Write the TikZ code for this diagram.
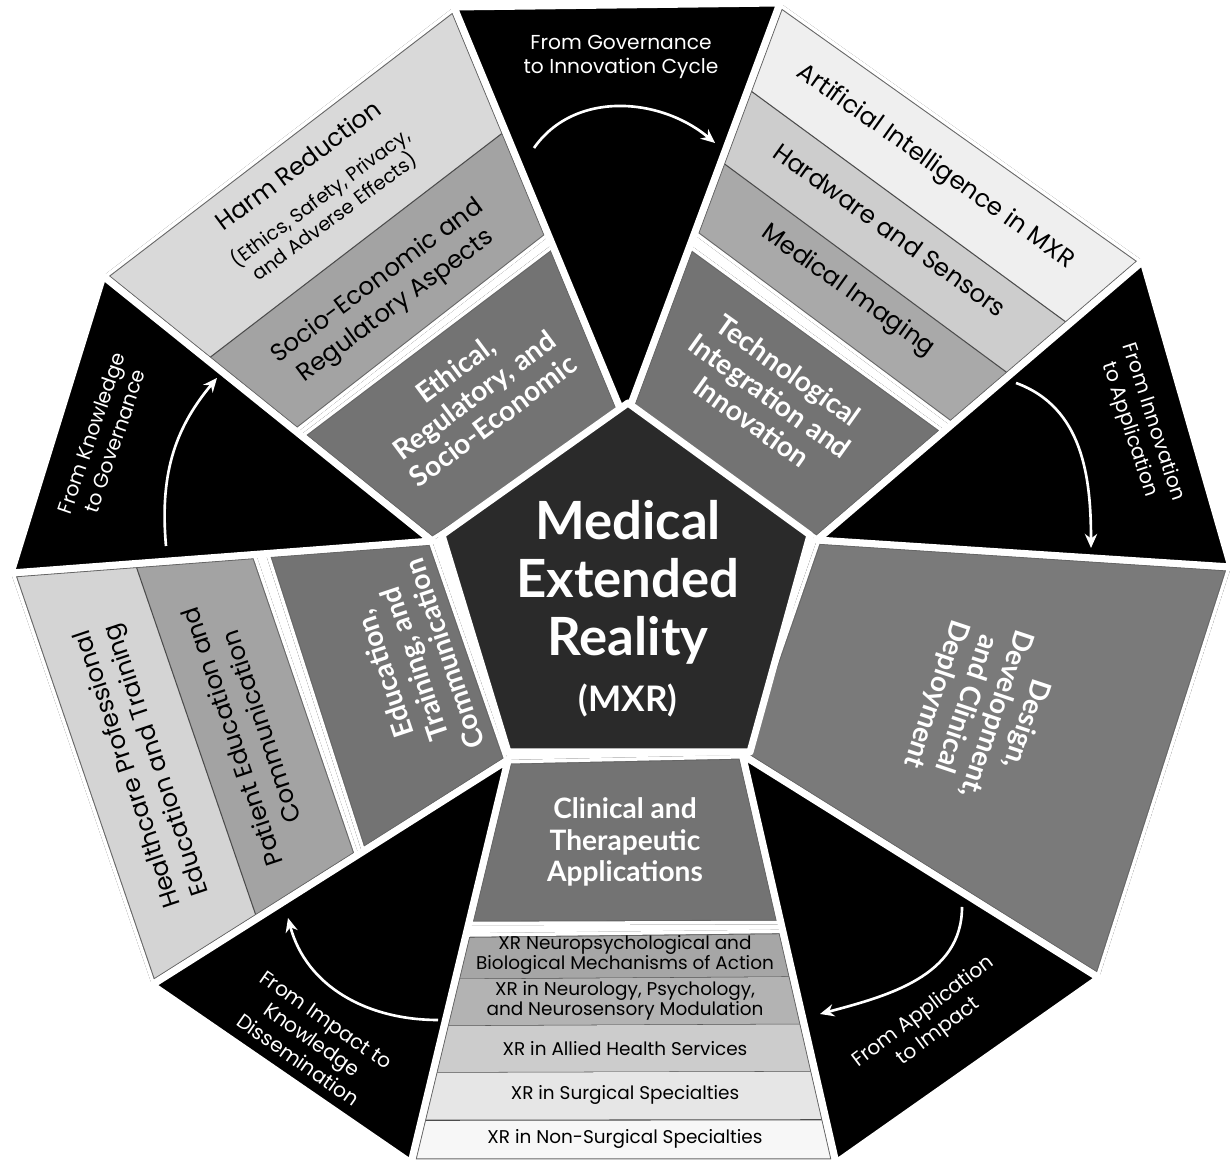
\documentclass[tikz,border=0pt]{standalone}
\usepackage{fontspec}
\setmainfont{Poppins}
\newfontfamily\headfont{Lato}
\usetikzlibrary{calc}
\usetikzlibrary{arrows.meta}

\definecolor{hubgrey}{HTML}{2A2A2A}
\definecolor{coregrey}{HTML}{737373}
\definecolor{designgrey}{HTML}{7A7A7A}
\definecolor{sociogrey}{HTML}{A3A3A3}
\definecolor{harmgrey}{HTML}{D9D9D9}
\definecolor{imaginggrey}{HTML}{A9A9A9}
\definecolor{hardwaregrey}{HTML}{CDCDCD}
\definecolor{aigrey}{HTML}{EFEFEF}
\definecolor{patientgrey}{HTML}{A3A3A3}
\definecolor{healthgrey}{HTML}{D4D4D4}
\definecolor{band1}{HTML}{A6A6A6}
\definecolor{band2}{HTML}{B3B3B3}
\definecolor{band3}{HTML}{CCCCCC}
\definecolor{band4}{HTML}{E6E6E6}
\definecolor{band5}{HTML}{F7F7F7}

\tikzset{
  wedge/.style={fill=black, draw=white, line width=4pt, line join=round},
  hub/.style={fill=hubgrey, draw=white, line width=4pt, line join=round},
  headtext/.style={text=white, align=center, font=\headfont\bfseries\fontsize{16}{18}\selectfont},
  itemtext/.style={text=black, align=center, font=\fontsize{14}{17.5}\selectfont},
  bandtext/.style={text=black, align=center, font=\fontsize{10.5}{11.5}\selectfont},
  flowtext/.style={text=white, align=center, font=\fontsize{11.5}{14}\selectfont},
  flow/.style={draw=white, line width=1.5pt, -{Stealth[length=8pt, width=7pt]}},
  bandline/.style={draw=black!70, line width=0.6pt},
}

\newcommand{\sectorpiece}[3]{%
  \begin{scope}
    \clip #2;
    \fill[#1] #2;
    #3
    \draw[black!60, line width=5.2pt, line join=round] #2;
    \draw[white, line width=4pt, line join=round] #2;
  \end{scope}}

\begin{document}
\begin{tikzpicture}[x=0.02cm, y=0.02cm]
\useasboundingbox (0,0) rectangle (1231,1162);

% wedge tips and outer ring
\coordinate (W1) at (625,742);
\coordinate (W2) at (817,622);
\coordinate (W3) at (742.5,407);
\coordinate (W4) at (508,402);
\coordinate (W5) at (432,621);
\coordinate (V1) at (454,1155);
\coordinate (V2) at (780,1159);
\coordinate (V3) at (1143,901);
\coordinate (V4) at (1231,595);
\coordinate (V5) at (1099,184);
\coordinate (V6) at (836,-1);
\coordinate (V7) at (411,-1);
\coordinate (V8) at (152,177);
\coordinate (V9) at (11,589);
\coordinate (V10) at (103,886);
% centre pentagon
\coordinate (C1) at (628,759);
\coordinate (C2) at (810,627);
\coordinate (C3) at (750,410);
\coordinate (C4) at (508,410);
\coordinate (C5) at (442,627);

% ethical sector
\coordinate (tla) at ($(W5)!0.40!(V10)$);
\coordinate (tlb) at ($(W1)!0.425!(V1)$);
\coordinate (tlc) at ($(W5)!0.41!(V10)$);
\coordinate (tld) at ($(W1)!0.445!(V1)$);
\coordinate (tle) at ($(W5)!0.684!(V10)$);
\coordinate (tlf) at ($(W1)!0.70!(V1)$);
\sectorpiece{coregrey}{(W5) -- (W1) -- (tlb) -- (tla) -- cycle}{}
\sectorpiece{harmgrey}{(tlc) -- (tld) -- (V1) -- (V10) -- cycle}{%
  \fill[sociogrey] (tlc) -- (tld) -- (tlf) -- (tle) -- cycle;
  \draw[bandline] (tle) -- (tlf);}

% technology sector
\coordinate (tra) at ($(W1)!0.42!(V2)$);
\coordinate (trb) at ($(W2)!0.393!(V3)$);
\coordinate (trc) at ($(W1)!0.445!(V2)$);
\coordinate (trd) at ($(W2)!0.41!(V3)$);
\coordinate (tre) at ($(W1)!0.62!(V2)$);
\coordinate (trf) at ($(W2)!0.592!(V3)$);
\coordinate (trg) at ($(W1)!0.794!(V2)$);
\coordinate (trh) at ($(W2)!0.773!(V3)$);
\sectorpiece{coregrey}{(W1) -- (W2) -- (trb) -- (tra) -- cycle}{}
\sectorpiece{aigrey}{(trc) -- (trd) -- (V3) -- (V2) -- cycle}{%
  \fill[imaginggrey] (trc) -- (trd) -- (trf) -- (tre) -- cycle;
  \fill[hardwaregrey] (tre) -- (trf) -- (trh) -- (trg) -- cycle;
  \draw[bandline] (tre) -- (trf);
  \draw[bandline] (trg) -- (trh);}

% design sector
\sectorpiece{designgrey}{(W2) -- (V4) -- (V5) -- (W3) -- cycle}{}

% clinical sector
\coordinate (ba) at ($(W4)!0.41!(V7)$);
\coordinate (bb) at ($(W3)!0.415!(V6)$);
\coordinate (bc) at ($(W4)!0.43!(V7)$);
\coordinate (bd) at ($(W3)!0.428!(V6)$);
\sectorpiece{coregrey}{(W4) -- (W3) -- (bb) -- (ba) -- cycle}{}
\sectorpiece{band5}{(bc) -- (bd) -- (V6) -- (V7) -- cycle}{%
  \foreach \a/\b/\tone in {0.43/0.544/band1, 0.544/0.66/band2, 0.66/0.776/band3, 0.776/0.894/band4}{
    \fill[\tone] ($(W4)!\a!(V7)$) -- ($(W3)!\a!(V6)$) -- ($(W3)!\b!(V6)$) -- ($(W4)!\b!(V7)$) -- cycle;
    \draw[bandline] ($(W4)!\b!(V7)$) -- ($(W3)!\b!(V6)$);}}

% education sector
\coordinate (la) at ($(W4)!0.41!(V8)$);
\coordinate (lb) at ($(W5)!0.395!(V9)$);
\coordinate (lc) at ($(W4)!0.42!(V8)$);
\coordinate (ld) at ($(W5)!0.418!(V9)$);
\coordinate (le) at ($(W4)!0.705!(V8)$);
\coordinate (lf) at ($(W5)!0.705!(V9)$);
\sectorpiece{coregrey}{(W4) -- (W5) -- (lb) -- (la) -- cycle}{}
\sectorpiece{healthgrey}{(lc) -- (ld) -- (V9) -- (V8) -- cycle}{%
  \fill[patientgrey] (lc) -- (ld) -- (lf) -- (le) -- cycle;
  \draw[bandline] (le) -- (lf);}

% black wedges and hub
\filldraw[wedge] (W1) -- (V1) -- (V2) -- cycle;
\filldraw[wedge] (W2) -- (V3) -- (V4) -- cycle;
\filldraw[wedge] (W3) -- (V5) -- (V6) -- cycle;
\filldraw[wedge] (W4) -- (V7) -- (V8) -- cycle;
\filldraw[wedge] (W5) -- (V9) -- (V10) -- cycle;
\filldraw[hub] (C1) -- (C2) -- (C3) -- (C4) -- (C5) -- cycle;

\node[text=white, align=center, font=\headfont\bfseries\fontsize{30}{33}\selectfont] (mxrtitle) at (628,580) {Medical\\Extended\\Reality};
\node[text=white, font=\headfont\bfseries\fontsize{20}{24}\selectfont] (mxrabbr) at (628,462) {(MXR)};

\node[headtext, rotate=36.7] (ethicalhead) at (474,767) {Ethical,\\Regulatory, and\\Socio-Economic};
\node[itemtext, rotate=36.7] (socioband) at (387,868) {Socio-Economic and\\Regulatory Aspects};
\node[itemtext, rotate=36.7] (harmtitle) at (298,997) {Harm Reduction};
\node[itemtext, rotate=36.7, font=\fontsize{11}{13.5}\selectfont] (harmnote) at (327,955) {(Ethics, Safety, Privacy,\\and Adverse Effects)};

\node[headtext, rotate=-35.5] (techhead) at (770,766) {Technological\\Integration and\\Innovation};
\node[itemtext, rotate=-35.5] (imaging) at (848,871) {Medical Imaging};
\node[itemtext, rotate=-35.5] (hardware) at (890,932) {Hardware and Sensors};
\node[itemtext, rotate=-35.5] (aiband) at (935,995) {Artificial Intelligence in MXR};

\node[headtext, rotate=-108.5] (designhead) at (981,453) {Design,\\Development,\\and Clinical\\Deployment};

\node[headtext] (clinicalhead) at (625,320) {Clinical and\\Therapeutic\\Applications};
\node[bandtext] (neuro) at (625,207) {XR Neuropsychological and\\Biological Mechanisms of Action};
\node[bandtext] (neurology) at (625,161) {XR in Neurology, Psychology,\\and Neurosensory Modulation};
\node[bandtext] (allied) at (625,113) {XR in Allied Health Services};
\node[bandtext] (surgical) at (625,67) {XR in Surgical Specialties};
\node[bandtext] (nonsurgical) at (625,23) {XR in Non-Surgical Specialties};

\node[headtext, rotate=108.5] (eduhead) at (414,498) {Education,\\Training, and\\Communication};
\node[itemtext, rotate=108.5] (patient) at (246,430) {Patient Education and\\Communication};
\node[itemtext, rotate=108.5] (healthcare) at (143,398) {Healthcare Professional\\Education and Training};

\node[flowtext] (govtext) at (621,1105) {From Governance\\to Innovation Cycle};
\node[flowtext, rotate=-72] (innotext) at (1141,736) {From Innovation\\to Application};
\node[flowtext, rotate=37] (apptext) at (931,140) {From Application\\to Impact};
\node[flowtext, rotate=-35] (imptext) at (312,122) {From Impact to\\Knowledge\\Dissemination};
\node[flowtext, rotate=71] (knowtext) at (103,725) {From Knowledge\\to Governance};

\coordinate (govA) at (534,1014);
\coordinate (govB) at (715,1019);
\coordinate (innA) at (1016,779);
\coordinate (innB) at (1091,614);
\coordinate (appA) at (962,255);
\coordinate (appB) at (820,148);
\coordinate (impA) at (438,142);
\coordinate (impB) at (288,244);
\coordinate (knoA) at (166,616);
\coordinate (knoB) at (217,784);
\draw[flow] (govA) to[out=55, in=140] (govB);
\draw[flow] (innA) to[out=-20, in=90] (innB);
\draw[flow] (appA) to[out=-90, in=15] (appB);
\draw[flow] (impA) to[out=180, in=-75] (impB);
\draw[flow] (knoA) to[out=95, in=-130] (knoB);
\end{tikzpicture}
\end{document}
